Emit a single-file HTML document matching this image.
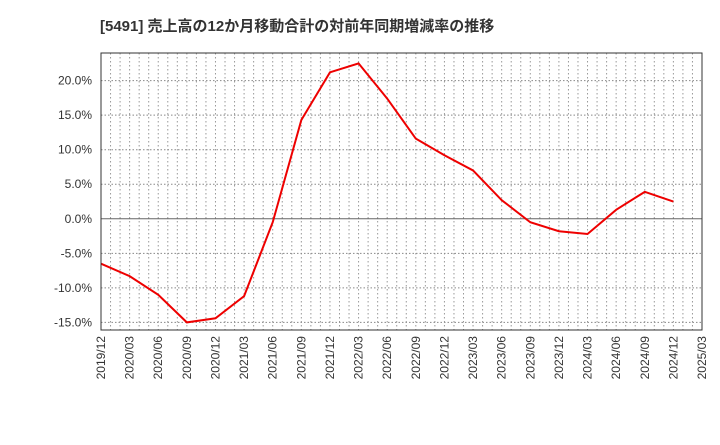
<!DOCTYPE html>
<html><head><meta charset="utf-8"><style>
body{margin:0;background:#fff;}
svg text{font-family:"Liberation Sans","Noto Sans CJK JP",sans-serif;}
</style></head><body>
<svg width="720" height="440" xmlns="http://www.w3.org/2000/svg">
<text x="100" y="31" font-size="15" font-weight="bold" fill="#333">[5491]  売上高の12か月移動合計の対前年同期増減率の推移</text>
<g id="grid"></g>
<g id="yaxis"></g>
<g id="xaxis"></g>
<polyline id="line" fill="none" stroke="#e00" stroke-width="2"/>
<rect x="101" y="53" width="601" height="277" fill="none" stroke="#333" stroke-width="1"/>
</svg>
<script>
const categories=["2019/12","2020/03","2020/06","2020/09","2020/12","2021/03","2021/06","2021/09","2021/12","2022/03","2022/06","2022/09","2022/12","2023/03","2023/06","2023/09","2023/12","2024/03","2024/06","2024/09","2024/12"];
const values=[-6.5,-8.3,-11.0,-15.0,-14.4,-11.2,-0.5,14.3,21.2,22.5,17.4,11.6,9.2,7.0,2.7,-0.5,-1.8,-2.2,1.3,3.9,2.5];
const xTickLabels=["2019/12","2020/03","2020/06","2020/09","2020/12","2021/03","2021/06","2021/09","2021/12","2022/03","2022/06","2022/09","2022/12","2023/03","2023/06","2023/09","2023/12","2024/03","2024/06","2024/09","2024/12","2025/03"];
const yTicks=[-15,-10,-5,0,5,10,15,20];
const ns="http://www.w3.org/2000/svg";
const L=101,R=702,T=53,B=330,yMin=-16.1,yMax=24.0;
const x=i=>L+i*(R-L)/(xTickLabels.length-1);
const y=v=>B-(v-yMin)/(yMax-yMin)*(B-T);
const grid=document.getElementById('grid'),ya=document.getElementById('yaxis'),xa=document.getElementById('xaxis');
function mk(tag,attrs,parent){const e=document.createElementNS(ns,tag);for(const k in attrs)e.setAttribute(k,attrs[k]);parent.appendChild(e);return e;}
const nMonths=(xTickLabels.length-1)*3;
for(let m=1;m<nMonths;m++){const xx=L+m*(R-L)/nMonths;
const g=mk('line',{x1:xx,x2:xx,y1:T,y2:B,stroke:'#999','stroke-dasharray':'1.5,2.5'},grid);

}
yTicks.forEach(v=>{const yy=y(v);
const g=mk('line',{x1:L,x2:R,y1:yy,y2:yy,stroke:v===0?'#666':'#888','stroke-dasharray':v===0?'':'1.5,2'},grid);


const t=mk('text',{x:92,y:yy+4,'font-size':12,'text-anchor':'end',fill:'#333'},ya);t.textContent=v.toFixed(1)+'%';

});
xTickLabels.forEach((s,i)=>{const xx=x(i);
const t=mk('text',{x:0,y:0,'font-size':12,'text-anchor':'end',fill:'#333',transform:`translate(${xx+4},${B+6}) rotate(-90)`},xa);t.textContent=s;

});
document.getElementById('line').setAttribute('points',values.map((v,i)=>x(i)+','+y(v)).join(' '));
</script>
</body></html>
